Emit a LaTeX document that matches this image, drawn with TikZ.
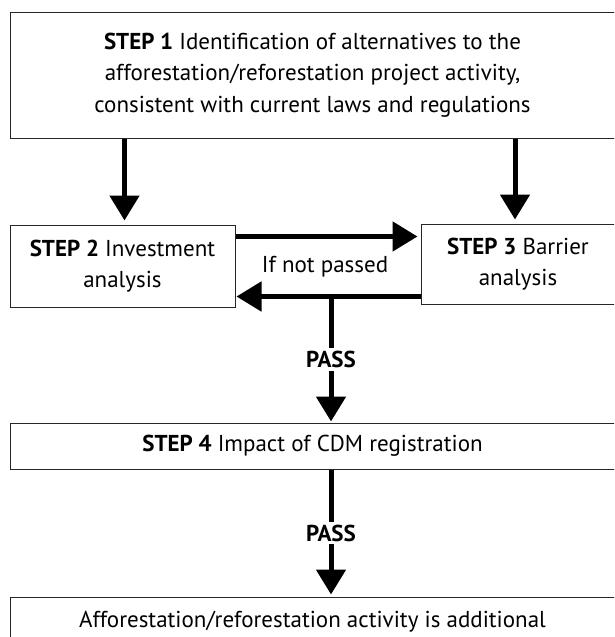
\documentclass[tikz,border=0pt]{standalone}
\usepackage{fontspec}
\setmainfont{PT Sans}
\usetikzlibrary{arrows.meta}

\begin{document}
\begin{tikzpicture}
    [x = 1pt, y = -1pt, font = \fontsize{23}{31.5}\selectfont,
     box/.style = {draw = black!85, line width = 1pt, align = center, inner sep = 0pt},
     arr/.style = {line width = 5pt, -{Triangle[width = 29pt, length = 25pt]}},
     pass/.style = {fill = white, font = \fontsize{23}{31.5}\selectfont\bfseries, inner sep = 3pt}]
    \clip (0,0) rectangle (614,637);
    \node[box, minimum width = 605pt, minimum height = 126pt] (step1) at (312.5,75)
      {\textbf{STEP 1} Identification of alternatives to the\\
       afforestation/reforestation project activity,\\
       consistent with current laws and regulations};
    \node[box, minimum width = 225pt, minimum height = 82pt] (step2) at (122.5,266)
      {\textbf{STEP 2} Investment\\analysis};
    \node[box, minimum width = 194pt, minimum height = 80pt] (step3) at (518,264)
      {\textbf{STEP 3} Barrier\\analysis};
    \node[box, minimum width = 605pt, minimum height = 46pt] (step4) at (312.5,446)
      {\textbf{STEP 4} Impact of CDM registration};
    \node[box, minimum width = 605pt, minimum height = 50pt] (result) at (312.5,622)
      {Afforestation/reforestation activity is additional};
    \node (fail) at (325,267) {If not passed};
    \coordinate (split) at (331,296);
    \draw[arr, shorten >= 4pt] ([xshift = 2pt]step1.south -| step2.north) -- ([xshift = 2pt]step2.north);
    \draw[arr, shorten >= 4pt] ([xshift = -3pt]step1.south -| step3.north) -- ([xshift = -3pt]step3.north);
    \draw[arr, shorten >= 3pt] ([yshift = -12pt]step2.north east) -- ([yshift = -12pt]step2.north east -| step3.west);
    \draw[arr, shorten >= 1pt] ([yshift = 8pt]step3.south west) -- ([yshift = 8pt]step3.south west -| step2.east);
    \draw[arr, shorten >= 1pt] (split) -- (split |- step4.north) node[midway, pass] {PASS};
    \draw[arr, shorten >= 2pt] (split |- step4.south) -- (split |- result.north) node[midway, pass] {PASS};
\end{tikzpicture}
\end{document}
